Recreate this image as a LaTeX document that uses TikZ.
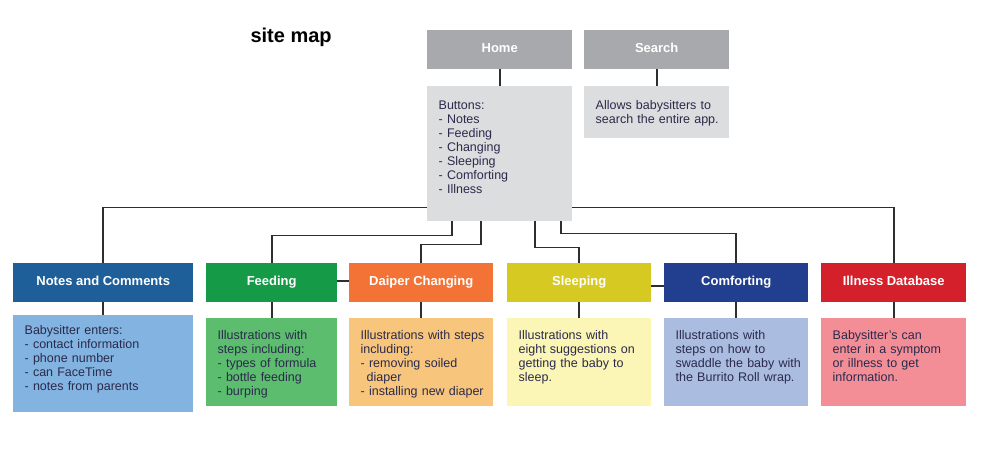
\documentclass[tikz,border=0pt]{standalone}
\usepackage{fontspec}
\setmainfont{Liberation Sans}
\usepackage{xcolor}
\usepackage{tikz}
\usetikzlibrary{positioning}

\definecolor{ink}{HTML}{2B2A4C}
\definecolor{wire}{HTML}{2E2E2E}
\definecolor{homegray}{HTML}{A7A9AC}
\definecolor{homelight}{HTML}{DCDDDE}
\definecolor{notesblue}{HTML}{1F5F99}
\definecolor{noteslight}{HTML}{82B3E1}
\definecolor{feedgreen}{HTML}{159A48}
\definecolor{feedlight}{HTML}{5CBD6E}
\definecolor{diaperorange}{HTML}{F37336}
\definecolor{diaperlight}{HTML}{F7C57B}
\definecolor{sleepyellow}{HTML}{D6C921}
\definecolor{sleeplight}{HTML}{FBF6B5}
\definecolor{comfortblue}{HTML}{213F8E}
\definecolor{comfortlight}{HTML}{AABCE0}
\definecolor{illred}{HTML}{D4202A}
\definecolor{illlight}{HTML}{F38E97}

\newcommand{\headfont}{\fontsize{13}{15}\selectfont\bfseries}
\newcommand{\infofont}{\fontsize{12.5}{14}\selectfont}

\tikzset{
  head/.style={fill=#1, text=white, font=\headfont, anchor=north west,
    inner sep=0pt, minimum width=144pt, minimum height=39pt,
    text height=9.5pt, text depth=3pt},
  info/.style={fill=#1, text=ink, font=\infofont, anchor=north west,
    inner sep=0pt, align=left, text width=144pt, text height=21pt, text depth=67pt,
    execute at begin node={\leftskip=11.5pt}},
  link/.style={draw=wire, line width=1.6pt}
}

\begin{document}
\begin{tikzpicture}[x=1pt, y=-1pt]

    \useasboundingbox (0, 0) rectangle (1000, 449);

    \node [anchor=base west, font=\fontsize{20}{22}\selectfont\bfseries] (title) at (247, 43) {site map};

    \node [head=homegray, minimum width=145pt] (home) at (427, 30) {Home};
    \node [head=homegray, minimum width=145pt] (search) at (584, 30) {Search};
    \node [info=homelight, text width=145pt, text height=23pt, text depth=112pt] (homebody) at (427, 86)
      {Buttons:\\- Notes\\- Feeding\\- Changing\\- Sleeping\\- Comforting\\- Illness};
    \node [info=homelight, text width=145pt, text height=23pt, text depth=29pt] (searchbody) at (584, 86)
      {Allows babysitters to\\search the entire app.};

    \node [head=notesblue, minimum width=180pt] (notes) at (13, 263) {Notes and Comments};
    \node [head=feedgreen, minimum width=131pt] (feeding) at (206, 263) {Feeding};
    \node [head=diaperorange] (diaper) at (349, 263) {Daiper Changing};
    \node [head=sleepyellow] (sleeping) at (507, 263) {Sleeping};
    \node [head=comfortblue] (comforting) at (664, 263) {Comforting};
    \node [head=illred, minimum width=145pt] (illness) at (821, 263) {Illness Database};

    \node [info=noteslight, text width=180pt, text height=19pt, text depth=78pt] (notesbody) at (13, 315)
      {Babysitter enters:\\- contact information\\- phone number\\- can FaceTime\\- notes from parents};
    \node [info=feedlight, text width=131pt] (feedingbody) at (206, 318)
      {Illustrations with\\steps including:\\- types of formula\\- bottle feeding\\- burping};
    \node [info=diaperlight] (diaperbody) at (349, 318)
      {Illustrations with steps\\including:\\- removing soiled\\\hspace*{6pt}diaper\\- installing new diaper};
    \node [info=sleeplight] (sleepingbody) at (507, 318)
      {Illustrations with\\eight suggestions on\\getting the baby to\\sleep.};
    \node [info=comfortlight] (comfortingbody) at (664, 318)
      {Illustrations with\\steps on how to\\swaddle the baby with\\the Burrito Roll wrap.};
    \node [info=illlight, text width=145pt] (illnessbody) at (821, 318)
      {Babysitter's can\\enter in a symptom\\or illness to get\\information.};

    % header to its box
    \foreach \a in {home, search, notes, feeding, diaper, sleeping, comforting, illness}
      \draw [link] (\a.south) -- (\a body.north);

    % home to the sections
    \draw [link] ([yshift=14pt]homebody.south west) -| (notes.north);
    \draw [link] ([yshift=14pt]homebody.south east) -| (illness.north);
    \draw [link] ([xshift=-47.5pt]homebody.south) -- ++(0, 14) -| (feeding.north);
    \draw [link] ([xshift=-18.5pt]homebody.south) -- ++(0, 23) -| (diaper.north);
    \draw [link] ([xshift=35.5pt]homebody.south) -- ++(0, 26) -| (sleeping.north);
    \draw [link] ([xshift=61.5pt]homebody.south) -- ++(0, 12) -| (comforting.north);
    \draw [link] ([yshift=2pt]feeding.east) -- ([yshift=2pt]diaper.west);
    \draw [link] ([yshift=-3pt]sleeping.east) -- ([yshift=-3pt]comforting.west);

\end{tikzpicture}
\end{document}
